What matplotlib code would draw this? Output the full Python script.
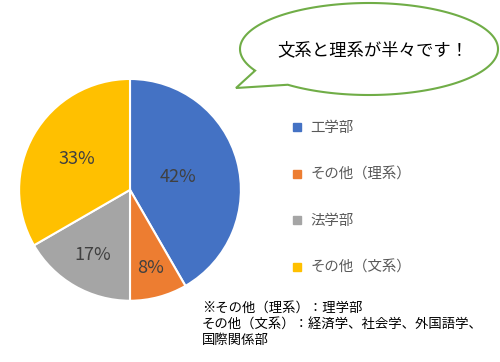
import numpy as np
import matplotlib
matplotlib.use("Agg")
from matplotlib import pyplot as plt
from matplotlib.lines import Line2D
from matplotlib.patches import Polygon

plt.rcParams['font.family'] = ['Noto Sans CJK JP', 'DejaVu Sans']

# データ（12人中の人数）
labels = ["工学部", "その他（理系）", "法学部", "その他（文系）"]
counts = [5, 1, 2, 4]
colors = ["#4472C4", "#ED7D31", "#A5A5A5", "#FFC000"]
pct_radius = [0.45, 0.73, 0.68, 0.55]

bubble_text = "文系と理系が半々です！"
note_lines = ["※その他（理系）：理学部",
              "その他（文系）：経済学、社会学、外国語学、",
              "国際関係部"]

fig = plt.figure(figsize=(5, 3.62), dpi=100)

### 円グラフ ###
ax = fig.add_axes([0.036, 0.166, 0.448, 0.619])
wedges, texts, autotexts = ax.pie(
    counts, colors=colors, startangle=90, counterclock=False,
    autopct=lambda p: "%d%%" % round(p),
    wedgeprops=dict(edgecolor="white", linewidth=1.5),
    textprops=dict(color="#404040", fontsize=13))
for w, t, r in zip(wedges, autotexts, pct_radius):
    mid = np.radians((w.theta1 + w.theta2) / 2)
    t.set_position((r * np.cos(mid), r * np.sin(mid)))
ax.set_xlim(-1.01, 1.01)
ax.set_ylim(-1.01, 1.01)
ax.set_aspect("equal")

### 凡例 ###
handles = [Line2D([], [], marker="s", linestyle="none", markersize=6,
                  markerfacecolor=c, markeredgecolor=c) for c in colors]
fig.legend(handles, labels, loc="upper left", bbox_to_anchor=(0.583, 0.665),
           frameon=False, fontsize=10.4, labelcolor="#595959",
           labelspacing=2.25, handlelength=0.8, handletextpad=0.5,
           borderpad=0, borderaxespad=0)

### 吹き出しと注記（ピクセル座標） ###
ov = fig.add_axes([0, 0, 1, 1])
ov.set_xlim(0, 500)
ov.set_ylim(362, 0)
ov.axis("off")
ov.patch.set_alpha(0)

cx, cy, a, b = 369, 49, 129, 46
t = np.radians(np.linspace(152, 129 + 360, 300))
pts = np.column_stack([cx + a * np.cos(t), cy + b * np.sin(t)])
pts = np.vstack([pts, [[236, 88]]])
ov.add_patch(Polygon(pts, closed=True, facecolor="white",
                     edgecolor="#70AD47", linewidth=1.5))
ov.text(373, 50, bubble_text, ha="center", va="center", fontsize=12.5,
        color="#000000")

for i, line in enumerate(note_lines):
    ov.text(202, 308 + i * 16, line, ha="left", va="center", fontsize=9.6,
            color="#000000")

fig.savefig("out.png", dpi=100)
